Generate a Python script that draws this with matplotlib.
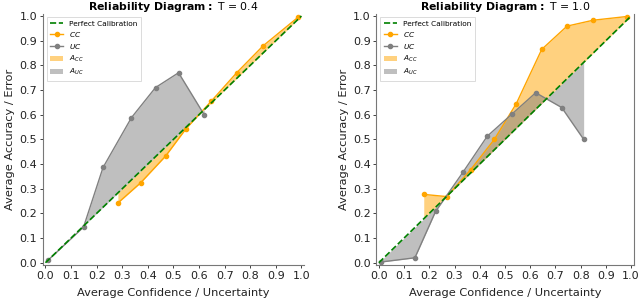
import matplotlib
matplotlib.use("Agg")
import matplotlib.pyplot as plt
import numpy as np

# reliability data
temps = ["0.4", "1.0"]

cc_conf_04 = [0.283, 0.372, 0.47, 0.549, 0.647, 0.747, 0.85, 0.988]
cc_acc_04 = [0.242, 0.324, 0.433, 0.543, 0.654, 0.77, 0.879, 0.996]
uc_unc_04 = [0.01, 0.149, 0.225, 0.336, 0.43, 0.52, 0.62]
uc_err_04 = [0.01, 0.145, 0.386, 0.588, 0.71, 0.77, 0.60]

cc_conf_10 = [0.178, 0.269, 0.364, 0.458, 0.545, 0.646, 0.746, 0.85, 0.983]
cc_acc_10 = [0.277, 0.268, 0.377, 0.50, 0.645, 0.865, 0.959, 0.983, 0.998]
uc_unc_10 = [0.01, 0.143, 0.225, 0.335, 0.43, 0.527, 0.622, 0.725, 0.812]
uc_err_10 = [0.003, 0.02, 0.208, 0.369, 0.513, 0.602, 0.689, 0.629, 0.50]

panels = [
    (cc_conf_04, cc_acc_04, uc_unc_04, uc_err_04),
    (cc_conf_10, cc_acc_10, uc_unc_10, uc_err_10),
]

fig = plt.figure(figsize=(6.4, 3.01), dpi=100)
axes = [fig.add_axes([0.067, 0.119, 0.408, 0.836]),
        fig.add_axes([0.588, 0.119, 0.402, 0.836])]

ticks = np.round(np.arange(0, 1.01, 0.1), 1)

for i, (ax, (ccx, ccy, ucx, ucy)) in enumerate(zip(axes, panels)):
    ccx, ccy = np.array(ccx), np.array(ccy)
    ucx, ucy = np.array(ucx), np.array(ucy)

    ax.plot([0, 1], [0, 1], "g--", lw=1.2, label="Perfect Calibration", zorder=4)
    ax.plot(ccx, ccy, color="orange", marker="o", ms=3, lw=1, label="$CC$", zorder=3)
    ax.plot(ucx, ucy, color="gray", marker="o", ms=3, lw=1, label="$UC$", zorder=3)
    ax.fill_between(ccx, ccy, ccx, color="orange", alpha=0.5, lw=0, label="$A_{CC}$")
    ax.fill_between(ucx, ucy, ucx, color="gray", alpha=0.5, lw=0, label="$A_{UC}$")

    ax.set_xlim(-0.01, 1.01)
    ax.set_ylim(-0.01, 1.01)
    ax.set_xticks(ticks)
    ax.set_yticks(ticks)
    ax.tick_params(labelsize=8, length=2.5, width=0.6, pad=1.5, colors="#222222")
    ax.set_xlabel("Average Confidence / Uncertainty", fontsize=8.2, labelpad=5, color="#222222")
    ax.set_ylabel("Average Accuracy / Error", fontsize=8.2, labelpad=3, color="#222222")
    ax.set_title(r"$\bf{Reliability\ Diagram:}$ T = " + temps[i], fontsize=7.8, pad=0.5)

    ax.spines["top"].set_visible(False)
    if i == 0:
        ax.spines["right"].set_visible(False)
    for s in ax.spines.values():
        s.set_color("#777777")
        s.set_linewidth(0.8)

    leg = ax.legend(loc="upper left", fontsize=5.3, frameon=True, handlelength=1.8,
                    borderpad=0.5, labelspacing=0.4, fancybox=False)
    leg.get_frame().set_edgecolor("#cccccc")
    leg.get_frame().set_linewidth(0.6)

fig.savefig("out.png", dpi=100)
